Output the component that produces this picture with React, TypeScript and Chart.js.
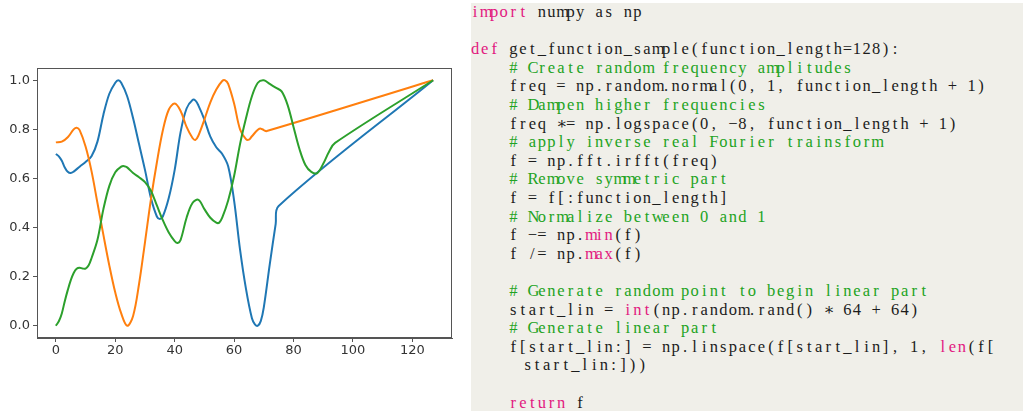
import React, { useEffect, useRef } from "react";
import { Chart, registerables } from "chart.js";

Chart.register(...registerables);

// ---- chart data ----
const BLUE_X = [0, 1, 2, 3, 4, 5, 6, 8, 10, 12, 14, 16, 18, 20, 21, 22, 24, 26, 28, 30, 32, 34, 35, 36, 38, 40, 42, 44, 46, 47, 48, 50, 52, 54, 56, 58, 60, 62, 64, 66, 67, 68, 69, 70, 72, 74, 75, 127];
const BLUE_Y = [0.70, 0.69, 0.672, 0.645, 0.627, 0.622, 0.628, 0.648, 0.667, 0.69, 0.75, 0.86, 0.945, 0.99, 1.0, 0.99, 0.935, 0.845, 0.74, 0.635, 0.52, 0.445, 0.435, 0.445, 0.52, 0.635, 0.79, 0.885, 0.92, 0.917, 0.897, 0.84, 0.77, 0.727, 0.70, 0.65, 0.51, 0.31, 0.15, 0.03, 0.006, 0.0, 0.02, 0.075, 0.25, 0.415, 0.488, 1.0];

const ORANGE_X = [0, 2, 4, 6, 7, 8, 10, 12, 14, 16, 18, 20, 22, 24, 26, 28, 30, 32, 34, 36, 38, 40, 42, 44, 46, 47, 48, 50, 52, 54, 56, 57, 58, 60, 62, 64, 65, 66, 68, 69, 70, 71, 127];
const ORANGE_Y = [0.747, 0.75, 0.768, 0.80, 0.807, 0.797, 0.73, 0.63, 0.50, 0.37, 0.245, 0.135, 0.05, 0.0, 0.04, 0.17, 0.34, 0.515, 0.665, 0.795, 0.88, 0.905, 0.875, 0.81, 0.765, 0.757, 0.775, 0.84, 0.91, 0.962, 0.997, 1.0, 0.985, 0.905, 0.80, 0.76, 0.758, 0.772, 0.798, 0.803, 0.797, 0.793, 1.0];

const GREEN_X = [0, 1, 2, 3, 4, 5, 6, 7, 8, 9, 10, 11, 12, 14, 16, 18, 20, 22, 23, 24, 26, 28, 30, 32, 34, 36, 38, 40, 41, 42, 44, 46, 48, 50, 52, 54, 55, 56, 58, 60, 62, 64, 66, 68, 70, 72, 74, 76, 78, 80, 82, 84, 86, 88, 90, 92, 94, 127];
const GREEN_Y = [0.0, 0.018, 0.05, 0.10, 0.145, 0.185, 0.215, 0.232, 0.236, 0.233, 0.233, 0.245, 0.275, 0.35, 0.475, 0.57, 0.625, 0.648, 0.65, 0.645, 0.622, 0.605, 0.585, 0.55, 0.49, 0.43, 0.38, 0.345, 0.337, 0.35, 0.44, 0.50, 0.513, 0.475, 0.44, 0.42, 0.42, 0.44, 0.51, 0.61, 0.74, 0.845, 0.935, 0.99, 1.0, 0.985, 0.97, 0.955, 0.90, 0.81, 0.72, 0.655, 0.627, 0.622, 0.66, 0.71, 0.745, 1.0];

const X_TICKS = [0, 20, 40, 60, 80, 100, 120];
const X_TICK_LABELS = ["0", "20", "40", "60", "80", "100", "120"];
const Y_TICKS = [0, 0.2, 0.4, 0.6, 0.8, 1.0];
const Y_TICK_LABELS = ["0.0", "0.2", "0.4", "0.6", "0.8", "1.0"];

// ---- code listing ----
type Tok = [string, "k" | "c" | "n"];
const CODE_LINES: { indent: number; toks: Tok[] }[] = [
  { indent: 0, toks: [["import", "k"], [" numpy as np", "n"]] },
  { indent: 0, toks: [] },
  { indent: 0, toks: [["def", "k"], [" get_function_sample(function_length=128):", "n"]] },
  { indent: 4, toks: [["# Create random frequency amplitudes", "c"]] },
  { indent: 4, toks: [["freq = np.random.normal(0, 1, function_length + 1)", "n"]] },
  { indent: 4, toks: [["# Dampen higher frequencies", "c"]] },
  { indent: 4, toks: [["freq \u2217= np.logspace(0, \u22128, function_length + 1)", "n"]] },
  { indent: 4, toks: [["# apply inverse real Fourier trainsform", "c"]] },
  { indent: 4, toks: [["f = np.fft.irfft(freq)", "n"]] },
  { indent: 4, toks: [["# Remove symmetric part", "c"]] },
  { indent: 4, toks: [["f = f[:function_length]", "n"]] },
  { indent: 4, toks: [["# Normalize between 0 and 1", "c"]] },
  { indent: 4, toks: [["f \u2212= np.", "n"], ["min", "k"], ["(f)", "n"]] },
  { indent: 4, toks: [["f /= np.", "n"], ["max", "k"], ["(f)", "n"]] },
  { indent: 0, toks: [] },
  { indent: 4, toks: [["# Generate random point to begin linear part", "c"]] },
  { indent: 4, toks: [["start_lin = ", "n"], ["int", "k"], ["(np.random.rand() \u2217 64 + 64)", "n"]] },
  { indent: 4, toks: [["# Generate linear part", "c"]] },
  { indent: 4, toks: [["f[start_lin:] = np.linspace(f[start_lin], 1, ", "n"], ["len", "k"], ["(f[", "n"]] },
  { indent: 5.5, toks: [["start_lin:]))", "n"]] },
  { indent: 0, toks: [] },
  { indent: 4, toks: [["return", "k"], [" f", "n"]] },
];

const COLORS = { k: "#e2187f", c: "#22a322", n: "#1c1c1c" };
const COL_W = 9.55;
const LINE_H = 18.6;
const SERIF = "'Liberation Serif', 'Times New Roman', Times, 'DejaVu Serif', serif";

function CodePanel() {
  return (
    <div
      style={{
        position: "absolute",
        left: 471,
        top: 3,
        width: 552,
        height: 408,
        background: "#f0efe9",
        overflow: "hidden",
        fontFamily: SERIF,
      }}
    >
      {CODE_LINES.map((line, li) => (
        <div
          key={li}
          style={{
            position: "absolute",
            left: -0.7 + line.indent * COL_W,
            top: li * LINE_H,
            height: LINE_H,
            lineHeight: LINE_H + "px",
            whiteSpace: "pre",
            fontSize: 16.5,
          }}
        >
          {line.toks.map((t, ti) =>
            Array.from(t[0]).map((ch, ci) => (
              <span
                key={ti + "-" + ci}
                style={{
                  display: "inline-block",
                  width: COL_W,
                  textAlign: "center",
                  color: COLORS[t[1]],
                }}
              >
                {ch}
              </span>
            ))
          )}
        </div>
      ))}
    </div>
  );
}

const frame = {
  id: "frame",
  afterDraw(chart: any) {
    const { ctx, chartArea } = chart;
    ctx.save();
    ctx.strokeStyle = "#555";
    ctx.lineWidth = 1;
    ctx.strokeRect(
      Math.round(chartArea.left) + 0.5,
      Math.round(chartArea.top) + 0.5,
      Math.round(chartArea.right - chartArea.left) - 1,
      Math.round(chartArea.bottom - chartArea.top) - 1
    );
    ctx.restore();
  },
};

function LineChart() {
  const ref = useRef<HTMLCanvasElement | null>(null);
  useEffect(() => {
    if (!ref.current) return;
    const mk = (xs: number[], ys: number[]) => xs.map((x, i) => ({ x, y: ys[i] }));
    const ds = (label: string, xs: number[], ys: number[], color: string, order: number) => ({
      label,
      data: mk(xs, ys),
      borderColor: color,
      backgroundColor: color,
      borderWidth: 2,
      pointRadius: 0,
      tension: 0.35,
      fill: false,
      order,
    });
    const chart = new Chart(ref.current, {
      type: "line",
      data: {
        datasets: [
          ds("f1", BLUE_X, BLUE_Y, "#1f77b4", 3),
          ds("f2", ORANGE_X, ORANGE_Y, "#ff7f0e", 2),
          ds("f3", GREEN_X, GREEN_Y, "#2ca02c", 1),
        ],
      },
      options: {
        animation: false,
        responsive: false,
        devicePixelRatio: 1,
        layout: { padding: { top: 68, right: 8, left: 0, bottom: 0 } },
        plugins: { legend: { display: false }, tooltip: { enabled: false } },
        scales: {
          x: {
            type: "linear",
            min: -6.35,
            max: 133.35,
            afterFit: (s: any) => {
              s.height = 22;
            },
            afterBuildTicks: (s: any) => {
              s.ticks = X_TICKS.map((v) => ({ value: v }));
            },
            ticks: {
              callback: (_v: any, i: number) => X_TICK_LABELS[i],
              font: { family: "'DejaVu Sans'", size: 13 },
              color: "#333",
              padding: 1,
              maxRotation: 0,
            },
            grid: { drawOnChartArea: false, drawTicks: true, tickLength: 4, color: "#555" },
            border: { display: true, color: "#555" },
          },
          y: {
            type: "linear",
            min: -0.05,
            max: 1.05,
            afterFit: (s: any) => {
              s.width = 37;
            },
            afterBuildTicks: (s: any) => {
              s.ticks = Y_TICKS.map((v) => ({ value: v }));
            },
            ticks: {
              callback: (_v: any, i: number) => Y_TICK_LABELS[i],
              font: { family: "'DejaVu Sans'", size: 13 },
              color: "#333",
              padding: 3,
            },
            grid: { drawOnChartArea: false, drawTicks: true, tickLength: 4, color: "#555" },
            border: { display: true, color: "#555" },
          },
        },
      },
      plugins: [frame],
    } as any);
    return () => chart.destroy();
  }, []);
  return (
    <div style={{ position: "absolute", left: 0, top: 0, width: 460, height: 360 }}>
      <canvas ref={ref} width={460} height={360} style={{ width: 460, height: 360 }} />
    </div>
  );
}

export default function App() {
  return (
    <div
      style={{
        position: "absolute",
        left: 0,
        top: 0,
        width: 1023,
        height: 411,
        background: "#fff",
        overflow: "hidden",
      }}
    >
      <LineChart />
      <CodePanel />
    </div>
  );
}
